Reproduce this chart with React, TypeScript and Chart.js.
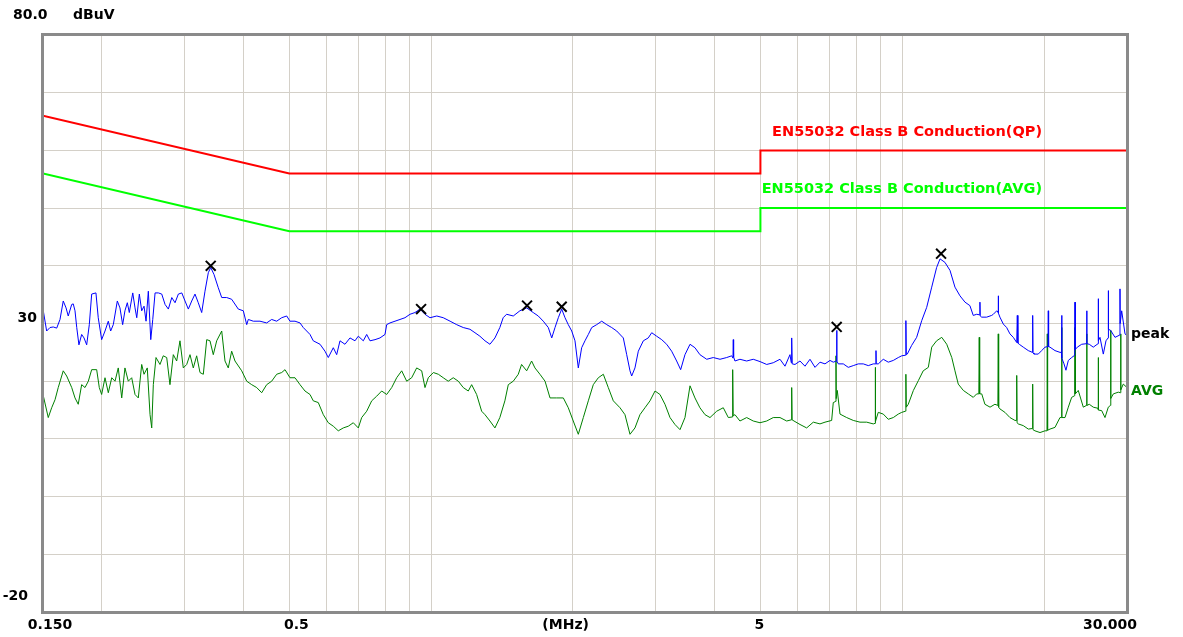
import React, { useEffect, useRef } from "react";
import { Chart, registerables } from "chart.js";

Chart.register(...registerables);

// Peak trace (MHz, dBuV)
const peakFreq = [
  0.150, 0.1527, 0.1552, 0.1577, 0.1604, 0.1630, 0.1656, 0.1679, 0.1697, 0.1726,
  0.1739, 0.1754, 0.1769, 0.1788, 0.1812, 0.1833, 0.1857, 0.1881, 0.1903, 0.1943,
  0.1965, 0.1998, 0.2031, 0.2064, 0.2088, 0.2115, 0.2157, 0.2185, 0.2214, 0.2239,
  0.2265, 0.2287, 0.2326, 0.2352, 0.2372, 0.2402, 0.2430, 0.2458, 0.2482, 0.2510,
  0.2540, 0.2565, 0.2594, 0.2636, 0.2680, 0.2724, 0.2768, 0.2815, 0.2860, 0.2907,
  0.2956, 0.3003, 0.3052, 0.3103, 0.3153, 0.3204, 0.3258, 0.3311, 0.3365, 0.3405,
  0.3460, 0.3533, 0.3593, 0.3681, 0.3772,
  0.3896, 0.3993, 0.4060, 0.4092, 0.4193, 0.4332, 0.4476, 0.4587, 0.4700, 0.4817,
  0.4936, 0.5016, 0.5141, 0.5268, 0.5353, 0.5532, 0.5621, 0.5810, 0.5952, 0.6049,
  0.6199, 0.6302, 0.6405, 0.6563, 0.6726, 0.6892, 0.7005, 0.7178, 0.7298, 0.7417,
  0.7601, 0.7788, 0.7981, 0.8047, 0.8178, 0.8381, 0.8588, 0.8800, 0.9018, 0.9241,
  0.9470, 0.9704,
  0.9944, 1.028, 1.061, 1.097, 1.133, 1.170, 1.209, 1.239, 1.269, 1.301,
  1.333, 1.366, 1.399, 1.422, 1.446, 1.494, 1.543, 1.595, 1.647, 1.688,
  1.730, 1.773, 1.803, 1.832, 1.862, 1.893, 1.924, 1.955, 1.988, 2.020,
  2.053, 2.087, 2.121, 2.156, 2.192, 2.246, 2.302, 2.359, 2.417, 2.477,
  2.558, 2.601, 2.643, 2.665, 2.708, 2.753, 2.821, 2.890, 2.939, 3.011,
  3.086, 3.162, 3.240, 3.320, 3.386, 3.458, 3.544, 3.631, 3.720, 3.846,
  3.971, 4.104, 4.240, 4.345, 4.372, 4.379, 4.386, 4.415, 4.524, 4.675,
  4.828, 4.990, 5.156, 5.324, 5.502, 5.638, 5.777, 5.814, 5.826, 5.840,
  5.921, 6.067, 6.217,
  6.371, 6.529, 6.690, 6.856, 7.025, 7.139, 7.250, 7.259, 7.268, 7.316,
  7.497, 7.682, 7.872, 8.067, 8.266, 8.471, 8.681, 8.786, 8.796, 8.806,
  8.895, 9.115, 9.341, 9.572, 9.809, 9.976, 10.16, 10.18, 10.20, 10.25,
  10.47, 10.73, 11.00, 11.27, 11.55, 11.83, 12.03, 12.32, 12.63, 12.94,
  13.26, 13.59, 13.92, 14.15, 14.39, 14.60, 14.62, 14.64, 14.75, 15.11,
  15.48,
  15.61, 15.87, 15.97, 15.99, 16.01, 16.12, 16.39, 16.66, 16.93, 17.21,
  17.50, 17.55, 17.60, 17.72, 18.07, 18.52, 18.89, 18.92, 18.95, 19.04,
  19.44, 19.77, 20.09, 20.39, 20.42, 20.45, 20.59, 21.10, 21.62, 21.77,
  21.80, 21.83, 22.05, 22.26, 22.52, 22.89, 23.24, 23.27, 23.30, 23.53,
  24.04, 24.61, 24.64, 24.67, 24.95, 25.44, 26.04, 26.07, 26.10, 26.29,
  26.72, 27.07, 27.35, 27.38, 27.41, 27.70, 28.29, 28.96, 28.99, 29.02,
  29.23, 29.71, 30.0,
];
const peakLevel = [
  32.5, 28.7, 29.3, 29.4, 29.2, 30.7, 33.9, 32.7, 31.3, 33.3,
  33.4, 32.2, 29.3, 26.3, 28.1, 27.5, 26.3, 29.8, 35.1, 35.3,
  31.0, 27.2, 28.7, 30.4, 28.7, 29.8, 33.9, 32.7, 29.8, 32.2,
  33.6, 31.9, 35.3, 32.7, 31.0, 35.1, 32.2, 33.0, 30.4, 35.6,
  27.2, 30.7, 35.3, 35.3, 35.1, 33.3, 32.5, 34.5, 33.6, 35.1,
  35.3, 33.9, 32.5, 33.9, 35.1, 33.6, 31.9, 35.6, 38.8, 39.7,
  38.5, 36.2, 34.5, 34.5, 34.2,
  32.5, 32.2, 29.8, 30.7, 30.4, 30.4, 30.1, 30.7, 30.4, 31.0,
  31.3, 30.4, 30.4, 30.1, 29.3, 28.1, 27.0, 26.4, 25.2, 24.1,
  25.8, 24.6, 27.0, 26.4, 27.5, 27.0, 27.8, 27.0, 28.1, 27.0,
  27.2, 27.5, 28.1, 29.8, 30.1, 30.4, 30.7, 31.0, 31.6, 31.9,
  32.5, 31.6,
  31.0, 31.3, 31.0, 30.4, 29.8, 29.3, 29.0, 28.4, 27.8, 27.0,
  26.4, 27.5, 29.3, 31.0, 31.6, 31.3, 32.2, 32.7, 31.9, 31.3,
  30.4, 29.3, 27.5, 29.3, 31.0, 32.5, 31.0, 29.8, 28.7, 27.0,
  22.3, 25.8, 27.0, 28.1, 29.3, 29.8, 30.4, 29.8, 29.3, 28.7,
  27.5, 24.6, 21.8, 20.9, 22.3, 25.2, 27.0, 27.5, 28.4, 27.8,
  27.2, 26.4, 25.2, 23.5, 22.0, 24.6, 26.4, 25.8, 24.6, 23.8,
  24.1, 23.8, 24.1, 24.4, 24.0, 27.2, 24.2, 23.5, 23.8, 23.5,
  23.8, 23.4, 22.9, 23.2, 23.8, 22.6, 24.6, 23.2, 27.5, 23.0,
  22.9, 23.5, 22.6,
  23.8, 22.4, 23.3, 23.0, 23.6, 23.3, 23.5, 28.8, 23.5, 23.0,
  23.0, 22.4, 22.7, 23.0, 23.0, 22.7, 23.0, 23.0, 25.3, 23.0,
  23.0, 23.8, 23.3, 23.6, 24.1, 24.4, 24.5, 30.5, 24.6, 24.7,
  26.2, 27.6, 30.5, 32.8, 36.3, 39.7, 41.2, 40.6, 39.2, 36.3,
  34.8, 33.7, 33.1, 31.4, 31.6, 31.5, 33.7, 31.3, 31.1, 31.1,
  31.4,
  31.6, 32.2, 32.0, 34.8, 31.8, 31.1, 29.9, 29.3, 28.2, 27.6,
  26.7, 31.4, 26.6, 26.4, 25.9, 25.3, 25.0, 31.4, 24.9, 24.7,
  24.7, 25.3, 25.9, 26.0, 32.2, 26.0, 25.9, 25.3, 25.0, 25.0,
  31.4, 24.0, 23.0, 21.9, 23.6, 24.1, 24.5, 33.7, 25.5, 25.9,
  26.4, 26.5, 32.2, 26.5, 26.4, 25.9, 26.5, 34.3, 27.0, 27.6,
  24.7, 27.0, 27.5, 35.7, 29.0, 28.8, 27.6, 28.0, 36.0, 30.0,
  32.2, 28.2, 27.9,
];

// Average trace (MHz, dBuV)
const avgFreq = [
  0.150, 0.1539, 0.1565, 0.1591, 0.1616, 0.1656, 0.1684, 0.1726, 0.1754, 0.1782,
  0.1812, 0.1842, 0.1872, 0.1903, 0.1950, 0.1975, 0.1998, 0.2031, 0.2064, 0.2099,
  0.2133, 0.2167, 0.2204, 0.2239, 0.2276, 0.2314, 0.2352, 0.2390, 0.2430, 0.2458,
  0.2497, 0.2531, 0.2552, 0.2572, 0.2606, 0.2657, 0.2700, 0.2746, 0.2790, 0.2836,
  0.2883, 0.2930, 0.2978, 0.3028, 0.3077, 0.3127, 0.3179, 0.3231, 0.3284, 0.3339,
  0.3393, 0.3448, 0.3506, 0.3593, 0.3651, 0.3710, 0.3772, 0.3834,
  0.3962, 0.4060, 0.4160, 0.4263, 0.4368, 0.4476, 0.4587, 0.4700, 0.4817, 0.4896,
  0.5016, 0.5141, 0.5268, 0.5398, 0.5532, 0.5621, 0.5760, 0.5904, 0.6049, 0.6199,
  0.6352, 0.6509, 0.6670, 0.6835, 0.7005, 0.7122, 0.7298, 0.7479, 0.7663, 0.7853,
  0.8047, 0.8247, 0.8450, 0.8659, 0.8874, 0.9093, 0.9318, 0.9549,
  0.9704, 0.9862, 1.011, 1.036, 1.061, 1.087, 1.114, 1.142, 1.170, 1.199,
  1.219, 1.249, 1.280, 1.301, 1.333, 1.366, 1.399, 1.434, 1.458, 1.494,
  1.531, 1.556, 1.595, 1.634, 1.661, 1.702, 1.745, 1.788, 1.847, 1.908,
  1.955, 2.003, 2.053, 2.104, 2.156, 2.209, 2.264, 2.320, 2.377, 2.436,
  2.517, 2.579, 2.643, 2.708, 2.775, 2.844, 2.915, 2.987, 3.060, 3.136,
  3.214, 3.293, 3.375, 3.458, 3.544, 3.631, 3.720, 3.814, 3.908, 4.038,
  4.170, 4.274, 4.355, 4.366, 4.377, 4.415, 4.524, 4.675, 4.828, 4.990,
  5.156, 5.324, 5.502, 5.685, 5.815, 5.826, 5.838, 5.892, 6.067, 6.268,
  6.475, 6.690, 6.856, 7.083, 7.139, 7.225, 7.234, 7.244, 7.280, 7.377,
  7.622, 7.872, 8.134, 8.405, 8.681, 8.755, 8.766, 8.777, 8.895, 9.115,
  9.341, 9.572, 9.809, 9.976, 10.16, 10.18, 10.20, 10.30, 10.56, 10.82,
  11.08, 11.36, 11.55, 11.83, 12.13, 12.43, 12.74, 12.94, 13.15, 13.48,
  13.81, 14.15, 14.39, 14.54, 14.57, 14.60, 14.75, 14.98, 15.36,
  15.73, 15.96, 15.99, 16.02, 16.12, 16.52, 16.93, 17.35, 17.47, 17.50,
  17.53, 17.63, 18.07, 18.52, 18.89, 18.92, 18.95, 19.13, 19.61, 20.09,
  20.29, 20.32, 20.35, 20.59, 21.10, 21.62, 21.77, 21.80, 21.83, 22.16,
  22.52, 22.89, 23.24, 23.27, 23.30, 23.64, 24.23, 24.61, 24.64, 24.67,
  24.95, 25.44, 26.04, 26.07, 26.10, 26.51, 26.94, 27.38, 27.67, 27.70,
  27.73, 28.06, 28.75, 29.06, 29.09, 29.12, 29.46, 30.0,
];
const avgLevel = [
  17.7, 13.7, 15.4, 16.8, 18.9, 21.8, 20.9, 18.9, 17.1, 16.0,
  19.4, 18.9, 20.0, 22.0, 22.0, 18.9, 17.7, 20.6, 18.0, 20.6,
  20.0, 22.3, 17.1, 22.3, 20.0, 20.6, 17.7, 17.1, 22.9, 21.2,
  22.3, 14.2, 11.9, 19.4, 24.1, 22.9, 24.4, 24.1, 19.4, 24.6,
  23.5, 27.0, 22.3, 22.9, 24.6, 22.3, 24.4, 21.5, 21.2, 27.2,
  27.0, 24.6, 27.0, 28.7, 23.5, 22.3, 25.2, 23.5,
  21.8, 20.0, 19.4, 18.9, 18.0, 19.4, 20.0, 21.2, 21.5, 22.0,
  20.6, 20.6, 19.4, 18.3, 17.7, 16.6, 16.3, 14.2, 12.8, 12.2,
  11.4, 11.9, 12.2, 12.8, 11.9, 13.7, 14.8, 16.6, 17.4, 18.3,
  17.7, 18.9, 20.6, 21.8, 20.0, 20.6, 22.3, 21.8,
  18.9, 20.6, 21.5, 21.2, 20.6, 20.0, 20.6, 20.0, 18.9, 18.3,
  19.4, 17.7, 14.8, 14.2, 13.1, 11.9, 13.7, 16.6, 19.4, 20.0,
  21.2, 22.9, 21.8, 23.5, 22.3, 21.2, 20.0, 17.1, 17.1, 17.1,
  15.4, 13.1, 10.8, 13.7, 16.6, 19.4, 20.6, 21.2, 18.9, 16.6,
  15.4, 14.2, 10.8, 11.9, 14.2, 15.4, 16.6, 18.3, 17.7, 16.0,
  13.7, 12.5, 11.6, 13.7, 19.2, 17.1, 15.4, 14.2, 13.7, 14.8,
  15.4, 13.7, 13.8, 22.0, 14.0, 14.2, 13.1, 13.7, 13.1, 12.8,
  13.1, 13.7, 13.7, 13.1, 13.3, 18.9, 13.3, 13.1, 12.5, 11.9,
  12.9, 12.6, 12.9, 13.2, 16.3, 16.5, 24.4, 17.0, 18.4, 14.3,
  13.7, 13.2, 12.9, 12.9, 12.6, 12.7, 22.4, 13.0, 14.6, 14.3,
  13.4, 13.7, 14.3, 14.6, 14.8, 21.2, 15.5, 16.0, 18.4, 20.1,
  21.8, 22.4, 25.9, 27.0, 27.6, 26.4, 24.1, 21.8, 19.5, 18.4,
  17.8, 17.2, 17.8, 17.8, 27.6, 17.8, 17.8, 16.0, 15.5,
  16.0, 15.8, 28.2, 15.5, 15.2, 14.6, 13.7, 13.2, 13.2, 21.0,
  12.8, 12.6, 12.3, 11.7, 11.8, 19.5, 11.6, 11.4, 11.1, 11.4,
  11.4, 28.2, 11.5, 11.7, 12.0, 13.7, 13.7, 29.3, 13.7, 13.7,
  15.5, 17.2, 17.5, 29.3, 17.8, 18.4, 15.5, 15.8, 28.2, 15.8,
  16.0, 15.5, 15.3, 24.1, 15.0, 14.9, 13.7, 15.5, 15.8, 28.8,
  17.0, 17.8, 18.1, 18.0, 28.2, 18.5, 19.5, 18.9,
];

// EN55032 Class B conducted limits
const qpLimitFreq = [0.15, 0.5, 5, 5, 30];
const qpLimitLevel = [66, 56, 56, 60, 60];
const avgLimitFreq = [0.15, 0.5, 5, 5, 30];
const avgLimitLevel = [56, 46, 46, 50, 50];

// Marked peaks
const markerFreq = [0.3405, 0.952, 1.598, 1.893, 7.259, 12.09];
const markerLevel = [40.0, 32.5, 33.1, 32.9, 29.4, 42.1];

// Grid / tick values
const xGridFreqs = [0.2, 0.3, 0.4, 0.5, 0.6, 0.7, 0.8, 0.9, 1, 2, 3, 4, 5, 6, 7, 8, 9, 10, 20];
const yGridLevels = [-20, -10, 0, 10, 20, 30, 40, 50, 60, 70, 80];
const xTickValues = [0.15, 0.5, 1.93, 5, 30];
const xTickTexts = ["0.150", "0.5", "(MHz)", "5", "30.000"];
const yTickValues = [80, 30, -20];
const yTickTexts = ["80.0", "30", "-20"];
const unitText = "dBuV";
const qpLabel = "EN55032 Class B Conduction(QP)";
const avgLimitLabel = "EN55032 Class B Conduction(AVG)";
const traceLabels = ["peak", "AVG"];
const traceLabelLevels = [28.2, 18.3];

const toXY = (xs: number[], ys: number[]) => xs.map((x, i) => ({ x, y: ys[i] }));

const FONT = "DejaVu Sans, Verdana, sans-serif";

const overlayPlugin = {
  id: "overlay",
  beforeDraw(chart: any) {
    const ctx = chart.ctx;
    ctx.save();
    ctx.fillStyle = "#ffffff";
    ctx.fillRect(0, 0, chart.width, chart.height);
    ctx.restore();
  },
  afterDraw(chart: any) {
    const ctx = chart.ctx;
    const xs = chart.scales.x;
    const ys = chart.scales.y;
    const a = chart.chartArea;
    ctx.save();
    // frame
    ctx.strokeStyle = "#8a8a8a";
    ctx.lineWidth = 3;
    ctx.strokeRect(a.left - 0.5, a.top - 0.5, a.right - a.left + 1, a.bottom - a.top + 1);

    ctx.textBaseline = "middle";
    ctx.fillStyle = "#000000";
    ctx.font = `bold 14px ${FONT}`;
    // y labels
    ctx.textAlign = "left";
    ctx.fillText(yTickTexts[0], a.left - 30, ys.getPixelForValue(yTickValues[0]) - 20);
    ctx.fillText(unitText, a.left + 30, ys.getPixelForValue(yTickValues[0]) - 20);
    ctx.textAlign = "right";
    ctx.fillText(yTickTexts[1], a.left - 6, ys.getPixelForValue(yTickValues[1]) - 5);
    ctx.fillText(yTickTexts[2], a.left - 15, ys.getPixelForValue(yTickValues[2]) - 16);
    // x labels
    ctx.textAlign = "center";
    const dx = [7, 7, 0, -1, -17];
    xTickValues.forEach((v, i) => {
      ctx.fillText(xTickTexts[i], xs.getPixelForValue(v) + dx[i], a.bottom + 13);
    });
    // trace labels
    ctx.textAlign = "left";
    ctx.fillStyle = "#000000";
    ctx.fillText(traceLabels[0], a.right + 4, ys.getPixelForValue(traceLabelLevels[0]));
    ctx.fillStyle = "#008000";
    ctx.fillText(traceLabels[1], a.right + 4, ys.getPixelForValue(traceLabelLevels[1]));
    // limit labels
    ctx.font = `bold 14.5px ${FONT}`;
    ctx.textAlign = "right";
    const rx = xs.getPixelForValue(20) - 2;
    ctx.fillStyle = "#ff0000";
    ctx.fillText(qpLabel, rx, ys.getPixelForValue(60) - 18);
    ctx.fillStyle = "#00ff00";
    ctx.fillText(avgLimitLabel, rx, ys.getPixelForValue(50) - 19);
    ctx.restore();
  },
};

export default function App() {
  const ref = useRef<HTMLCanvasElement | null>(null);
  useEffect(() => {
    if (!ref.current) return;
    const chart = new Chart(ref.current, {
      type: "line",
      data: {
        datasets: [
          {
            type: "scatter",
            data: toXY(markerFreq, markerLevel),
            pointStyle: "crossRot",
            pointRadius: 7,
            pointBorderWidth: 2,
            borderColor: "#000000",
            backgroundColor: "#000000",
            showLine: false,
          } as any,
          {
            data: toXY(peakFreq, peakLevel),
            borderColor: "#0000ff",
            borderWidth: 1,
            pointRadius: 0,
            tension: 0,
          },
          {
            data: toXY(avgFreq, avgLevel),
            borderColor: "#008000",
            borderWidth: 1,
            pointRadius: 0,
            tension: 0,
          },
          {
            data: toXY(qpLimitFreq, qpLimitLevel),
            borderColor: "#ff0000",
            borderWidth: 2,
            pointRadius: 0,
            tension: 0,
          },
          {
            data: toXY(avgLimitFreq, avgLimitLevel),
            borderColor: "#00ff00",
            borderWidth: 2,
            pointRadius: 0,
            tension: 0,
          },
        ],
      },
      options: {
        animation: false,
        responsive: false,
        maintainAspectRatio: false,
        parsing: true as any,
        layout: { padding: { left: 43, right: 56, top: 35, bottom: 25 } },
        plugins: { legend: { display: false }, tooltip: { enabled: false } },
        scales: {
          x: {
            type: "logarithmic",
            min: 0.15,
            max: 30,
            afterBuildTicks: (s: any) => {
              s.ticks = xGridFreqs.map((v) => ({ value: v }));
            },
            ticks: { display: false },
            grid: { color: "#d4d0c8", lineWidth: 1, drawTicks: false },
            border: { display: false },
          },
          y: {
            type: "linear",
            min: -20,
            max: 80,
            afterBuildTicks: (s: any) => {
              s.ticks = yGridLevels.map((v) => ({ value: v }));
            },
            ticks: { display: false },
            grid: { color: "#d4d0c8", lineWidth: 1, drawTicks: false },
            border: { display: false },
          },
        },
      },
      plugins: [overlayPlugin],
    });
    return () => chart.destroy();
  }, []);
  return (
    <canvas
      ref={ref}
      width={1183}
      height={637}
      style={{ position: "absolute", left: 0, top: 0, width: 1183, height: 637 }}
    />
  );
}
